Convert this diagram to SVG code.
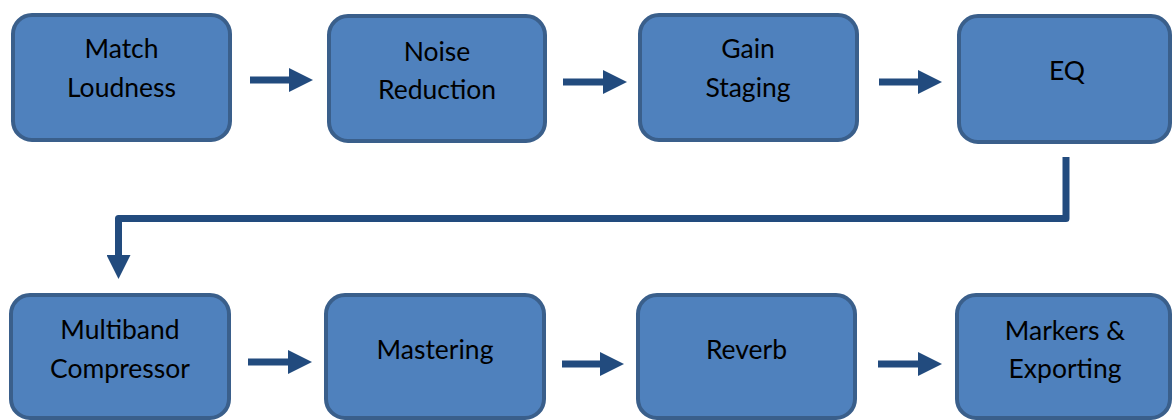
<svg xmlns="http://www.w3.org/2000/svg" width="1172" height="420" viewBox="0 0 1172 420">
<style>
.box{fill:#4F81BD;stroke:#3A5F8B;stroke-width:4}
.lbl{font-family:Lato,"Open Sans","Liberation Sans",sans-serif;font-size:26.5px;fill:#000;text-anchor:middle}
.conn{fill:none;stroke:#224B7E;stroke-width:7;stroke-linejoin:round}
</style>
<defs>
<marker id="ah" markerUnits="userSpaceOnUse" markerWidth="24" markerHeight="24" refX="0" refY="12" orient="auto" viewBox="0 0 24 24">
<path d="M0,0 L24,12 L0,24 Z" fill="#224B7E"/>
</marker>
</defs>
<rect width="1172" height="420" fill="#fff"/>
<g id="n1"><rect class="box" x="13" y="15" width="217" height="125" rx="19"/>
<text class="lbl" x="121.5" y="58">Match</text><text class="lbl" x="121.5" y="97">Loudness</text></g>
<g id="n2"><rect class="box" x="329" y="16" width="216" height="125" rx="19"/>
<text class="lbl" x="437" y="61">Noise</text><text class="lbl" x="437" y="99">Reduction</text></g>
<g id="n3"><rect class="box" x="640" y="15" width="217" height="125" rx="19"/>
<text class="lbl" x="748" y="58">Gain</text><text class="lbl" x="748" y="97">Staging</text></g>
<g id="n4"><rect class="box" x="959" y="16" width="211" height="126" rx="19"/>
<text class="lbl" x="1067" y="80">EQ</text></g>
<g id="n5"><rect class="box" x="11" y="295" width="218" height="123" rx="19"/>
<text class="lbl" x="120" y="339">Multiband</text><text class="lbl" x="120" y="378">Compressor</text></g>
<g id="n6"><rect class="box" x="326" y="295" width="218" height="123" rx="19"/>
<text class="lbl" x="435" y="359">Mastering</text></g>
<g id="n7"><rect class="box" x="638" y="295" width="217" height="123" rx="19"/>
<text class="lbl" x="746.5" y="359">Reverb</text></g>
<g id="n8"><rect class="box" x="957" y="295" width="213" height="123" rx="19"/>
<text class="lbl" x="1065" y="340">Markers &amp;</text><text class="lbl" x="1065" y="378">Exporting</text></g>
<g id="connectors">
<path class="conn" marker-end="url(#ah)" d="M250,80 H289"/>
<path class="conn" marker-end="url(#ah)" d="M563,82 H603"/>
<path class="conn" marker-end="url(#ah)" d="M879,82 H918"/>
<path class="conn" marker-end="url(#ah)" d="M1066,157 V218.5 H118.5 V255"/>
<path class="conn" marker-end="url(#ah)" d="M248,362 H288"/>
<path class="conn" marker-end="url(#ah)" d="M562,364 H600"/>
<path class="conn" marker-end="url(#ah)" d="M878,364 H918"/>
</g>
</svg>
